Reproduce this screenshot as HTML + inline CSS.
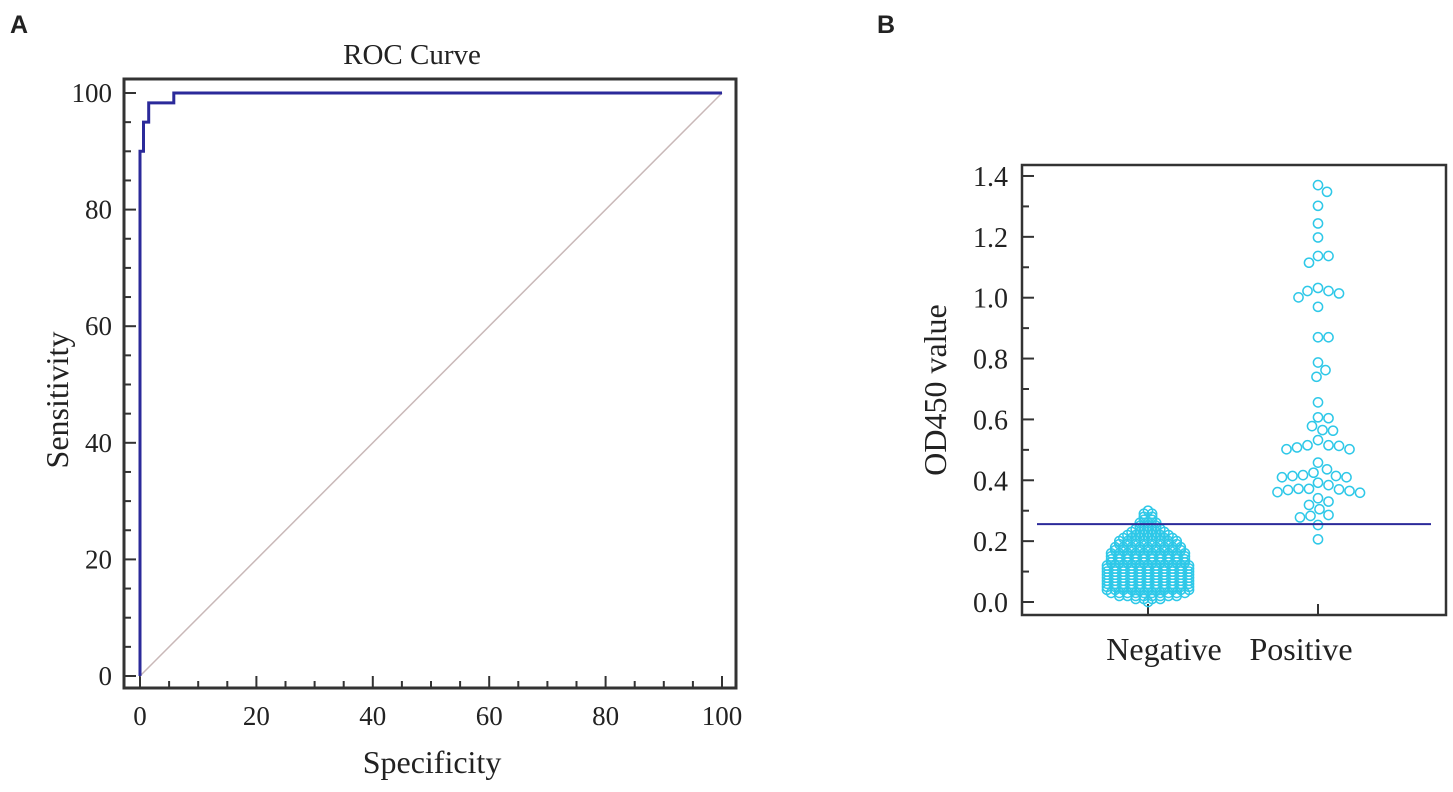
<!DOCTYPE html>
<html><head><meta charset="utf-8"><style>
body{margin:0;background:#fff}
svg{display:block}
text{font-family:"Liberation Serif",serif;fill:#222}
</style></head><body>
<svg id="fig" width="1453" height="792" viewBox="0 0 1453 792">
<text x="10" y="33" style="font-family:'Liberation Sans',sans-serif;font-weight:bold;font-size:25px">A</text>
<text x="877" y="33" style="font-family:'Liberation Sans',sans-serif;font-weight:bold;font-size:25px">B</text>
<text x="412" y="64" font-size="29" text-anchor="middle">ROC Curve</text>
<text transform="translate(68,400) rotate(-90)" font-size="32" text-anchor="middle">Sensitivity</text>
<text x="432" y="773" font-size="32" text-anchor="middle">Specificity</text>
<text transform="translate(946,390) rotate(-90)" font-size="32" text-anchor="middle">OD450 value</text>
<g id="rocG"></g>
<g id="dotG"></g>
</svg>
<script>
// ROC data
const rocSpec = [0, 0, 0.6, 0.6, 1.5, 1.5, 5.8, 5.8, 100];
const rocSens = [0, 90, 90, 95, 95, 98.3, 98.3, 100, 100];
const rocTicks = [0, 20, 40, 60, 80, 100];
// Dot plot data
const categories = ["Negative", "Positive"];
const cutoff = 0.256;
const odTicks = ["0.0", "0.2", "0.4", "0.6", "0.8", "1.0", "1.2", "1.4"];
const negBinValues = [0.00,0.01,0.02,0.03,0.04,0.05,0.06,0.07,0.08,0.09,0.10,0.11,0.12,0.13,0.14,0.15,0.16,0.17,0.18,0.19,0.20,0.21,0.22,0.23,0.24,0.25,0.26,0.27,0.28,0.29,0.30];
const negBinCounts = [1,4,8,10,11,11,11,11,11,11,11,11,11,10,10,10,10,9,9,8,8,7,6,5,4,3,3,2,2,2,1];
const posValues = [1.348,1.370,1.302,1.244,1.198,1.137,1.137,1.115,1.022,1.022,1.032,1.001,1.014,0.970,0.870,0.870,0.787,0.762,0.740,0.656,0.604,0.607,0.565,0.563,0.578,0.532,0.502,0.502,0.508,0.513,0.515,0.515,0.458,0.436,0.410,0.410,0.414,0.414,0.417,0.425,0.384,0.392,0.359,0.361,0.365,0.368,0.370,0.372,0.372,0.341,0.330,0.319,0.305,0.278,0.283,0.286,0.253,0.206];

const NS = "http://www.w3.org/2000/svg";
function mk(parent, tag, attrs, txt) {
  const e = document.createElementNS(NS, tag);
  for (const k in attrs) e.setAttribute(k, attrs[k]);
  if (txt !== undefined) e.textContent = txt;
  parent.appendChild(e);
  return e;
}
// ROC panel
const rg = document.getElementById('rocG');
const rx = v => 140 + v * 5.82;
const ry = v => 676 - v * 5.83;
let el;
el = mk(rg, 'rect', {x:124, y:79, width:612, height:609, fill:'none', stroke:'#333', 'stroke-width':3});


for (let v = 0; v <= 100; v += 5) {
  const major = v % 20 === 0;
  const L = major ? 12 : 7;
  el = mk(rg, 'line', {x1:rx(v), x2:rx(v), y1:688, y2:688 - L, stroke:'#333', 'stroke-width':2});
  
  
  el = mk(rg, 'line', {x1:124, x2:124 + L, y1:ry(v), y2:ry(v), stroke:'#333', 'stroke-width':2});
  
  
}
rocTicks.forEach(t => {
  el = mk(rg, 'text', {x:rx(t), y:725, 'font-size':27, 'text-anchor':'middle'}, t);
  
  
  el = mk(rg, 'text', {x:112, y:ry(t) + 9, 'font-size':27, 'text-anchor':'end'}, t);
  
  
});
el = mk(rg, 'line', {x1:rx(0), y1:ry(0), x2:rx(100), y2:ry(100), stroke:'#c9b8b8', 'stroke-width':1.5});


let d = '';
rocSpec.forEach((s, i) => { d += (i ? 'L' : 'M') + rx(s).toFixed(1) + ' ' + ry(rocSens[i]).toFixed(1); });
el = mk(rg, 'path', {d:d, fill:'none', stroke:'#2b2a9a', 'stroke-width':3});



// Dot plot panel
const dg = document.getElementById('dotG');
const dy = v => 602 - v * 304.3;
const cx = [1148, 1318];
el = mk(dg, 'rect', {x:1022, y:165, width:424, height:450, fill:'none', stroke:'#333', 'stroke-width':2.5});


for (let i = 0; i <= 14; i++) {
  const v = i / 10;
  const L = i % 2 === 0 ? 12 : 7;
  el = mk(dg, 'line', {x1:1022, x2:1022 + L, y1:dy(v), y2:dy(v), stroke:'#333', 'stroke-width':2});
  
  
}
odTicks.forEach(t => {
  el = mk(dg, 'text', {x:1008, y:dy(parseFloat(t)) + 10, 'font-size':28, 'text-anchor':'end'}, t);
  
  
});
const labelX = [1164, 1301];
categories.forEach((c, i) => {
  el = mk(dg, 'line', {x1:cx[i], x2:cx[i], y1:615, y2:604, stroke:'#333', 'stroke-width':2});
  
  
  el = mk(dg, 'text', {x:labelX[i], y:660, 'font-size':32, 'text-anchor':'middle'}, c);
  
  
});
const R = 4.6;
negBinValues.forEach((v, b) => {
  const n = negBinCounts[b];
  for (let i = 0; i < n; i++) {
    el = mk(dg, 'circle', {cx:cx[0] + (i - (n - 1) / 2) * 8.2, cy:dy(v), r:R, fill:'none', stroke:'#2ec8e8', 'stroke-width':1.5});
    
    
  }
});
const placed = [];
const order = posValues.map((v, i) => i).sort((a, b) => posValues[b] - posValues[a]);
const D = 10.5;
order.forEach(i => {
  const y = dy(posValues[i]);
  let best = null;
  for (let k = 0; k < 60 && best === null; k++) {
    const offs = k === 0 ? [0] : [k * 1.5, -k * 1.5];
    for (const o of offs) {
      const ok = placed.every(p => Math.hypot(p[0] - o, p[1] - y) >= D);
      if (ok) { best = o; break; }
    }
  }
  if (best === null) best = 0;
  placed.push([best, y]);
  el = mk(dg, 'circle', {cx:cx[1] + best, cy:y, r:R, fill:'none', stroke:'#2ec8e8', 'stroke-width':1.5});
  
  
});
el = mk(dg, 'line', {x1:1037, x2:1431, y1:dy(cutoff), y2:dy(cutoff), stroke:'#2b2a9a', 'stroke-width':2});


</script>
</body></html>
